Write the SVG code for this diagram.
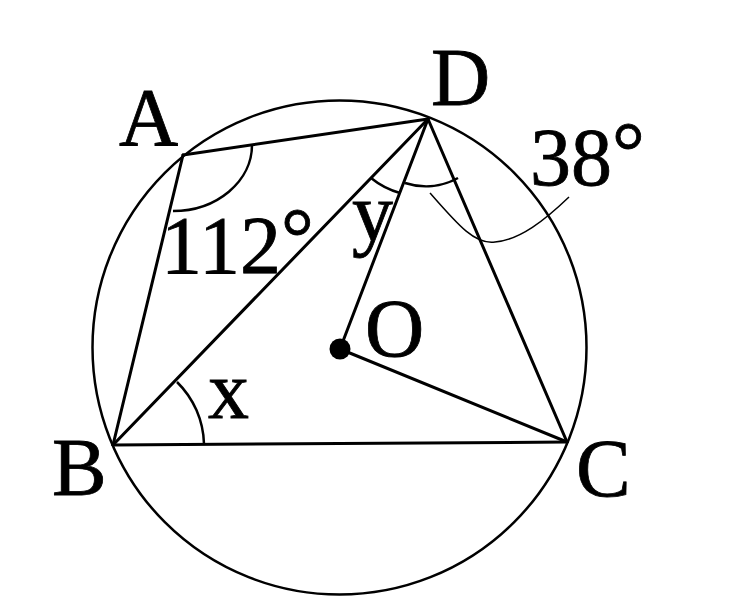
<svg xmlns="http://www.w3.org/2000/svg" width="744" height="600" viewBox="0 0 744 600">
<style>
.ln{stroke:#000;stroke-width:3;fill:none;stroke-linecap:round}
.arc{stroke:#000;stroke-width:2.5;fill:none}
.thin{stroke:#000;stroke-width:1.5;fill:none}
.lbl{font-family:"Liberation Serif","Times New Roman",serif;font-size:82px;fill:#000;stroke:#000;stroke-width:0.8}
</style>
<rect width="744" height="600" fill="#fff"/>
<g id="circle"><circle cx="339.5" cy="347.5" r="247" class="arc"/></g>
<g id="connectors">
<line x1="183" y1="155" x2="428" y2="119" class="ln"/>
<line x1="183" y1="155" x2="113" y2="445" class="ln"/>
<line x1="113" y1="445" x2="428" y2="119" class="ln"/>
<line x1="428" y1="119" x2="340" y2="349" class="ln"/>
<line x1="340" y1="349" x2="567" y2="442" class="ln"/>
<line x1="428" y1="119" x2="567" y2="442" class="ln"/>
<line x1="113" y1="445" x2="567" y2="442" class="ln"/>
</g>
<g id="angles">
<path d="M252,145 A79,66 0 0 1 173,211" class="arc"/>
<path d="M177,382 A90,90 0 0 1 204,444" class="arc"/>
<path d="M371,178 A80,80 0 0 0 400,193" class="arc"/>
<path d="M405,183 A67,67 0 0 0 458,178" class="arc"/>
<path d="M430,193 C458,225 475,245 495,242 C520,240 545,220 569,197" class="thin"/>
</g>
<g id="O"><circle cx="340" cy="349" r="10.5" fill="#000"/><text x="365" y="356" class="lbl">O</text></g>
<g id="A"><text x="119" y="145" class="lbl">A</text></g>
<g id="B"><text x="52" y="495" class="lbl">B</text></g>
<g id="C"><text x="576" y="496" class="lbl">C</text></g>
<g id="D"><text x="431" y="105" class="lbl">D</text></g>
<g id="labels">
<text x="161" y="273" class="lbl">112<tspan dy="-8">°</tspan></text>
<text x="530" y="185" class="lbl">38<tspan dy="-6">°</tspan></text>
<text x="352" y="240" class="lbl">y</text>
<text x="208" y="418" class="lbl">x</text>
</g>
</svg>
